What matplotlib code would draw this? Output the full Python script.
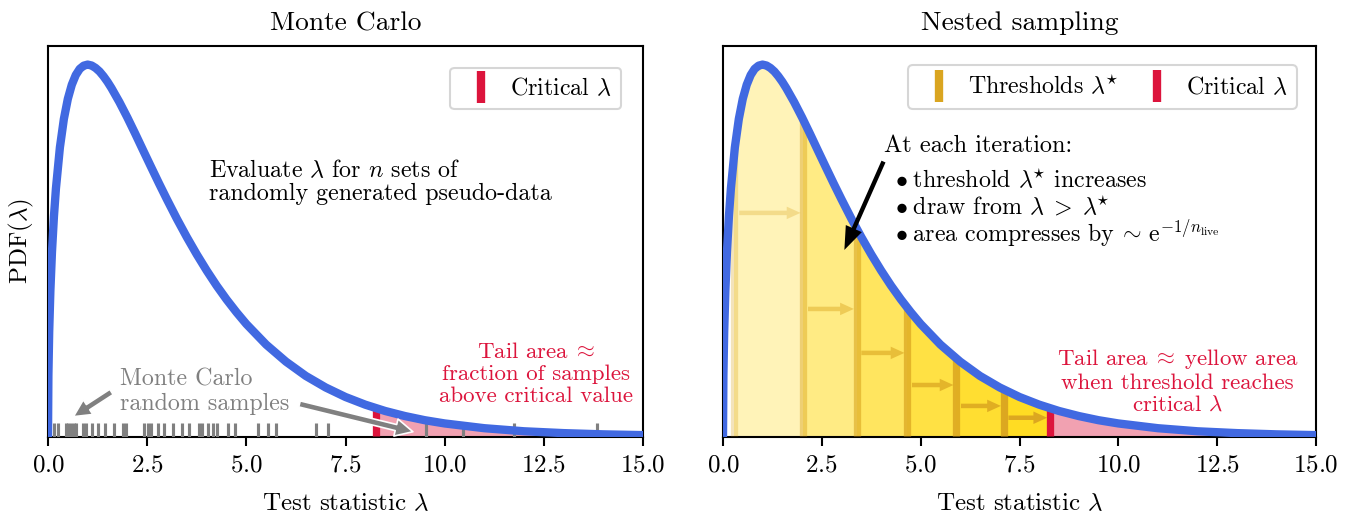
import matplotlib
matplotlib.use("Agg")
import matplotlib.pyplot as plt
from matplotlib.lines import Line2D

plt.rcParams.update({
    "font.family": "cmr10",
    "mathtext.fontset": "cm",
    "axes.formatter.use_mathtext": True,
    "font.size": 12,
    "axes.linewidth": 1.0,
    "xtick.major.width": 1.0,
    "xtick.major.size": 4.5,
    "xtick.major.pad": 4,
})

# ---- data ----
lam = [0, 0.01, 0.03, 0.06, 0.1, 0.15, 0.2, 0.3, 0.4, 0.5, 0.6, 0.7, 0.8, 0.9,
       1.0, 1.1, 1.2, 1.3, 1.4, 1.5, 1.6, 1.8, 2.0, 2.2, 2.4, 2.6, 2.8, 3.0,
       3.25, 3.5, 3.75, 4.0, 4.25, 4.5, 4.75, 5.0, 5.5, 6.0, 6.5, 7.0, 7.5,
       8.0, 8.5, 9.0, 9.5, 10, 11, 12, 13, 14, 15]
pdf = [0.0, 0.0397, 0.0681, 0.0948, 0.1200, 0.1433, 0.1614, 0.1881, 0.2066,
       0.2197, 0.2289, 0.2352, 0.2392, 0.2413, 0.2420, 0.2414, 0.2398, 0.2375,
       0.2344, 0.2308, 0.2267, 0.2176, 0.2076, 0.1970, 0.1861, 0.1753, 0.1646,
       0.1542, 0.1416, 0.1297, 0.1185, 0.1080, 0.0982, 0.0892, 0.0809, 0.0732,
       0.0598, 0.0487, 0.0394, 0.0319, 0.0257, 0.0207, 0.0166, 0.0133, 0.0106,
       0.0085, 0.0054, 0.0034, 0.0022, 0.0014, 0.0009]

mc_samples = [0.16, 0.24, 0.45, 0.51, 0.58, 0.65, 0.70, 0.87, 0.97, 1.10,
              1.25, 1.43, 1.67, 1.90, 1.96, 2.43, 2.51, 2.59, 2.78, 2.92,
              3.14, 3.37, 3.56, 3.81, 3.89, 4.03, 4.15, 4.25, 4.54, 4.71,
              5.29, 5.54, 5.74, 6.75, 7.06, 9.53, 10.47, 11.76, 13.84]
critical = 8.27
thresholds = [0.29, 2.03, 3.38, 4.66, 5.90, 7.10]
threshold_alphas = [0.3, 0.45, 0.6, 0.72, 0.84, 0.95]
arrow_heights = [0.1455, 0.0830, 0.0544, 0.0335, 0.0199, 0.0122]
x_ticks = [0.0, 2.5, 5.0, 7.5, 10.0, 12.5, 15.0]
titles = ["Monte Carlo", "Nested sampling"]

BLUE = "royalblue"
RED = "crimson"
GOLD = "goldenrod"
FS_NOTE = 11.5
FS_RED = 11
FS_TITLE = 13.2

W, H = 1357, 517
DPI = 150
fig = plt.figure(figsize=(W / DPI, H / DPI), dpi=DPI)
bottom = (H - 436.5) / H
height = 390.5 / H
ax1 = fig.add_axes([48 / W, bottom, 595 / W, height])
ax2 = fig.add_axes([723 / W, bottom, 593 / W, height])

ymax = 1.05 * max(pdf)


def base(ax, title):
    poly = ax.fill_between(lam, 0, pdf, color="none", lw=0)
    clip = poly.get_paths()[0]
    ax.plot(lam, pdf, color=BLUE, lw=4, zorder=6, solid_capstyle="round")
    ax.set_xlim(0, 15)
    ax.set_ylim(0, ymax)
    ax.set_xticks(x_ticks)
    ax.set_yticks([])
    ax.set_xlabel(r"Test statistic $\lambda$", labelpad=8)
    ax.set_title(title, pad=7.5, fontsize=FS_TITLE)
    span = ax.axvspan(critical, 15, color=RED, alpha=0.4, lw=0, zorder=1)
    span.set_clip_path(clip, ax.transData)
    crit = ax.axvline(critical, color=RED, lw=3.5, zorder=4)
    crit.set_clip_path(clip, ax.transData)
    return clip


# ---------------- Monte Carlo ----------------
clip1 = base(ax1, titles[0])
ax1.set_ylabel(r"PDF$(\lambda)$", labelpad=6)
ax1.vlines(mc_samples, 0, 0.0085, color="gray", lw=1.5, zorder=3)

h1 = [Line2D([], [], color=RED, marker="|", ls="none", markersize=15,
             markeredgewidth=4)]
ax1.legend(h1, [r"Critical $\lambda$"], loc="upper right", borderaxespad=0.9,
           handletextpad=0.3, handlelength=1.8, fontsize=FS_NOTE)

ax1.text(4.07, 0.1691, r"Evaluate $\lambda$ for $n$ sets of", va="baseline",
         fontsize=FS_NOTE)
ax1.text(4.07, 0.1540, "randomly generated pseudo-data", va="baseline",
         fontsize=FS_NOTE)

ax1.text(12.31, 0.0407,
         "Tail area$\\;\\approx$\nfraction of samples\nabove critical value",
         color=RED, ha="center", va="center", linespacing=1.15, fontsize=FS_RED)
ax1.text(1.81, 0.0335, "Monte Carlo", color="gray", va="baseline", fontsize=FS_NOTE)
ax1.text(1.81, 0.0173, "random samples", color="gray", va="baseline", fontsize=FS_NOTE)

gray_arrow = dict(arrowstyle="simple,head_length=0.7,head_width=0.7,tail_width=0.25",
                  fc="gray", ec="white", lw=0.8, shrinkA=0, shrinkB=0)
ax1.annotate("", xy=(0.64, 0.0129), xytext=(1.60, 0.0290),
             arrowprops=gray_arrow, zorder=7)
ax1.annotate("", xy=(9.20, 0.0031), xytext=(6.34, 0.0212),
             arrowprops=gray_arrow, zorder=7)

# ---------------- Nested sampling ----------------
clip2 = base(ax2, titles[1])
ends = thresholds[1:] + [critical]
for t, a in zip(thresholds, threshold_alphas):
    sp = ax2.axvspan(t, critical, color="gold", alpha=0.28, lw=0, zorder=1)
    sp.set_clip_path(clip2, ax2.transData)
    ln = ax2.axvline(t, color=GOLD, lw=3.5, alpha=a, zorder=3)
    ln.set_clip_path(clip2, ax2.transData)

for t, e, hgt, a in zip(thresholds, ends, arrow_heights, threshold_alphas):
    ax2.annotate("", xy=(e - 0.07, hgt), xytext=(t + 0.12, hgt),
                 arrowprops=dict(arrowstyle="simple,head_length=0.55,head_width=0.5,tail_width=0.18",
                                 fc=GOLD, ec="none", alpha=a, shrinkA=0, shrinkB=0),
                 zorder=3)

h2 = [Line2D([], [], color=GOLD, marker="|", ls="none", markersize=15,
             markeredgewidth=4),
      Line2D([], [], color=RED, marker="|", ls="none", markersize=15,
             markeredgewidth=4)]
ax2.legend(h2, [r"Thresholds $\lambda^{\!\!\star}$", r"Critical $\lambda$"],
           loc="upper right", ncol=2, borderaxespad=0.8, handletextpad=0.3,
           handlelength=1.8, columnspacing=0.7, fontsize=FS_NOTE)

ax2.text(4.07, 0.1852, "At each iteration:", va="baseline", fontsize=11.7)
ax2.text(4.35, 0.1618, r"$\bullet\;$threshold $\lambda^{\!\!\star}\!$ increases",
         va="baseline", fontsize=FS_NOTE)
ax2.text(4.35, 0.1442, r"$\bullet\;$draw from $\lambda\;>\;\lambda^{\!\!\star}$",
         va="baseline", fontsize=FS_NOTE)
ax2.text(4.35, 0.1266, r"$\bullet\;$area compresses by $\!\sim\,\mathrm{e}^{-1/n_{\mathrm{live}}}$",
         va="baseline", fontsize=FS_NOTE)
ax2.annotate("", xy=(3.07, 0.1214), xytext=(4.06, 0.1789),
             arrowprops=dict(arrowstyle="simple,head_length=0.8,head_width=0.6,tail_width=0.15",
                             fc="black", ec="none", shrinkA=0, shrinkB=0,
                             mutation_scale=14), zorder=7)

ax2.text(11.5, 0.0361,
         "Tail area$\\;\\approx\\;$yellow area\nwhen threshold reaches\ncritical $\\lambda$",
         color=RED, ha="center", va="center", linespacing=1.15, fontsize=FS_RED)

fig.savefig("out.png", dpi=DPI)
